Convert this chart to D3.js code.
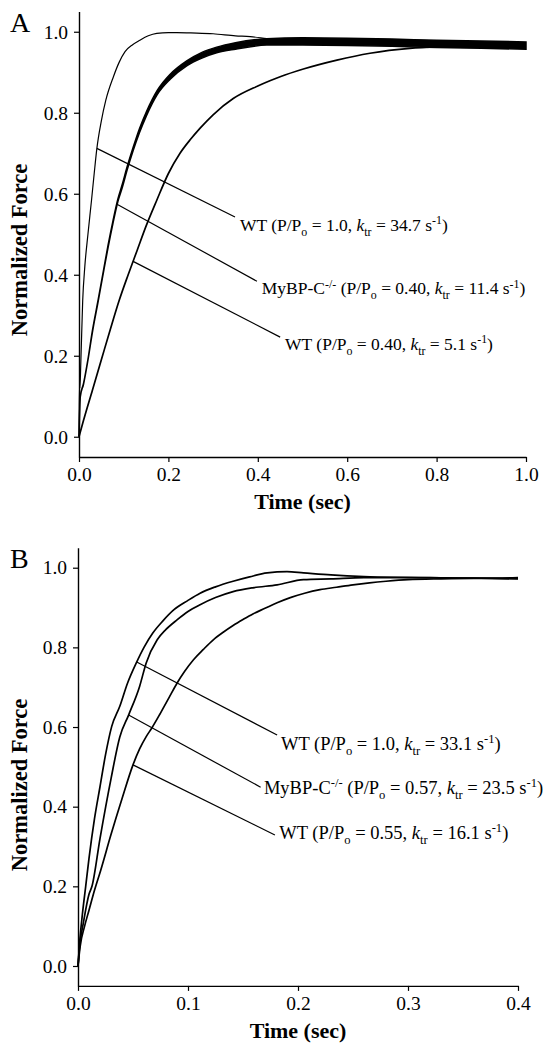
<!DOCTYPE html>
<html><head><meta charset="utf-8">
<script src="https://cdn.jsdelivr.net/npm/d3@7"></script>
<style>
body{margin:0;background:#fff}
svg{display:block}
text{font-family:"Liberation Serif","Times New Roman",serif;fill:#000}
</style></head>
<body><svg id="c" width="557" height="1045"></svg>
<script>
// ---------- DATA ----------
// Panel A
const tA_wt1 = [0,0.001,0.002,0.004,0.0083,0.013,0.02,0.028,0.034,0.040,0.050,0.060,0.077,0.09,0.103,0.12,0.136,0.155,0.174,0.2,0.219,0.25,0.3,0.35,0.383,0.42,0.46,0.5,0.6,0.7,0.8,0.9,1.0];
const fA_wt1 = [0,0.13,0.12,0.18,0.337,0.42,0.50,0.584,0.65,0.712,0.78,0.831,0.889,0.925,0.951,0.968,0.979,0.99,0.996,0.998,0.998,0.997,0.995,0.99,0.988,0.983,0.978,0.975,0.972,0.97,0.968,0.967,0.966];
const tA_ko = [0,0.003,0.01,0.02,0.03,0.043,0.055,0.065,0.076,0.087,0.097,0.107,0.121,0.135,0.151,0.175,0.204,0.241,0.275,0.308,0.35,0.42,0.5,0.6,0.7,0.8,0.9,1.0];
const fA_ko = [0,0.10,0.13,0.19,0.26,0.337,0.41,0.47,0.53,0.584,0.62,0.66,0.71,0.755,0.798,0.85,0.889,0.922,0.942,0.955,0.965,0.975,0.976,0.975,0.973,0.97,0.968,0.966];
// half-width of the noise band of the MyBP-C trace in panel A
const nA_ko = [0,0.001,0.001,0.001,0.002,0.002,0.002,0.003,0.003,0.003,0.004,0.004,0.004,0.005,0.005,0.005,0.006,0.006,0.007,0.007,0.008,0.008,0.009,0.009,0.009,0.009,0.009,0.009];
const tA_wt2 = [0,0.01,0.03,0.05,0.07,0.09,0.11,0.13,0.15,0.174,0.2,0.226,0.25,0.271,0.3,0.345,0.4,0.427,0.45,0.502,0.577,0.651,0.74,0.815,0.9,1.0];
const fA_wt2 = [0,0.04,0.115,0.19,0.265,0.337,0.40,0.46,0.52,0.584,0.65,0.70,0.735,0.762,0.795,0.835,0.866,0.879,0.889,0.908,0.93,0.947,0.959,0.963,0.965,0.962];
// Panel B
const tB_wt1 = [0,0.0015,0.004,0.007,0.01,0.015,0.02,0.025,0.0306,0.038,0.045,0.053,0.06,0.068,0.077,0.087,0.1,0.111,0.125,0.141,0.156,0.172,0.19,0.205,0.23,0.26,0.29,0.32,0.35,0.38,0.4];
const fB_wt1 = [0,0.06,0.13,0.2,0.27,0.37,0.45,0.53,0.601,0.652,0.71,0.761,0.80,0.836,0.866,0.894,0.918,0.936,0.952,0.966,0.977,0.987,0.99,0.987,0.982,0.978,0.976,0.975,0.974,0.974,0.975];
const tB_ko = [0,0.0015,0.005,0.01,0.0127,0.02,0.03,0.038,0.046,0.056,0.062,0.072,0.08,0.09,0.1,0.111,0.125,0.141,0.16,0.181,0.205,0.23,0.26,0.3,0.35,0.4];
const fB_ko = [0,0.05,0.11,0.18,0.2,0.32,0.47,0.575,0.63,0.702,0.761,0.819,0.845,0.869,0.89,0.907,0.925,0.94,0.95,0.957,0.97,0.972,0.975,0.975,0.974,0.973];
const tB_wt2 = [0,0.002,0.006,0.01,0.015,0.0206,0.03,0.04,0.05,0.056,0.062,0.067,0.075,0.083,0.09,0.097,0.105,0.114,0.123,0.132,0.141,0.15,0.159,0.17,0.181,0.193,0.206,0.22,0.235,0.25,0.265,0.28,0.3,0.33,0.36,0.4];
const fB_wt2 = [0,0.05,0.1,0.14,0.19,0.24,0.33,0.42,0.505,0.545,0.576,0.597,0.635,0.675,0.71,0.74,0.769,0.795,0.819,0.838,0.855,0.87,0.884,0.898,0.912,0.925,0.936,0.945,0.951,0.957,0.962,0.966,0.97,0.972,0.973,0.972];

// tick values
const yTicks = [0.0,0.2,0.4,0.6,0.8,1.0];
const xTicksA = [0.0,0.2,0.4,0.6,0.8,1.0];
const xTicksB = [0.0,0.1,0.2,0.3,0.4];

// annotation texts
const labelsA = [
  [{t:"WT (P/P"},{t:"o",sub:1},{t:" = 1.0, "},{t:"k",it:1},{t:"tr",sub:1},{t:" = 34.7 s"},{t:"-1",sup:1},{t:")"}],
  [{t:"MyBP-C"},{t:"-/-",sup:1},{t:" (P/P"},{t:"o",sub:1},{t:" = 0.40, "},{t:"k",it:1},{t:"tr",sub:1},{t:" = 11.4 s"},{t:"-1",sup:1},{t:")"}],
  [{t:"WT (P/P"},{t:"o",sub:1},{t:" = 0.40, "},{t:"k",it:1},{t:"tr",sub:1},{t:" = 5.1 s"},{t:"-1",sup:1},{t:")"}]
];
const labelsB = [
  [{t:"WT (P/P"},{t:"o",sub:1},{t:" = 1.0, "},{t:"k",it:1},{t:"tr",sub:1},{t:" = 33.1 s"},{t:"-1",sup:1},{t:")"}],
  [{t:"MyBP-C"},{t:"-/-",sup:1},{t:" (P/P"},{t:"o",sub:1},{t:" = 0.57, "},{t:"k",it:1},{t:"tr",sub:1},{t:" = 23.5 s"},{t:"-1",sup:1},{t:")"}],
  [{t:"WT (P/P"},{t:"o",sub:1},{t:" = 0.55, "},{t:"k",it:1},{t:"tr",sub:1},{t:" = 16.1 s"},{t:"-1",sup:1},{t:")"}]
];

// ---------- LAYOUT ----------
const svg = d3.select("#c");
const panels = [
  {letter:"A", x0:79, x1:526, y0:457, y1:11.5, xmax:1.0, xTicks:xTicksA,
   series:[[tA_wt1,fA_wt1,1.2,null],[tA_ko,fA_ko,1.5,nA_ko],[tA_wt2,fA_wt2,1.7,null]],
   ann:[ {s:0, ts:0.040, te:0.349, fe:0.5425, tl:0.360, fl:0.508},
         {s:1, ts:0.085, te:0.398, fe:0.384, tl:0.409, fl:0.352},
         {s:2, ts:0.121, te:0.450, fe:0.246, tl:0.461, fl:0.215} ],
   labels:labelsA, lfs:17.5, titleY:250},
  {letter:"B", x0:78, x1:518, y0:985.9, y1:547.8, xmax:0.4, xTicks:xTicksB,
   series:[[tB_wt1,fB_wt1,1.7,null],[tB_ko,fB_ko,1.7,null],[tB_wt2,fB_wt2,1.7,null]],
   ann:[ {s:0, ts:0.0534, te:0.181, fe:0.58, tl:0.1845, fl:0.542},
         {s:1, ts:0.046, te:0.166, fe:0.449, tl:0.169, fl:0.432},
         {s:2, ts:0.050, te:0.179, fe:0.329, tl:0.183, fl:0.319} ],
   labels:labelsB, lfs:18.5, titleY:785}
];

function rich(sel, parts, fs){
  let shift = 0;
  parts.forEach(p=>{
    const ts = sel.append("tspan").text(p.t);
    const target = p.sub ? fs*0.28 : (p.sup ? -fs*0.38 : 0);
    if (target - shift !== 0) ts.attr("dy", target - shift);
    shift = target;
    if (p.sub || p.sup) ts.attr("font-size", fs*0.68);
    if (p.it) ts.attr("font-style","italic");
  });
}
function interp(ts, fs, t){
  for (let i=1;i<ts.length;i++){
    if (t<=ts[i]){ const a=(t-ts[i-1])/(ts[i]-ts[i-1]); return fs[i-1]+a*(fs[i]-fs[i-1]); }
  }
  return fs[fs.length-1];
}

panels.forEach(P=>{
  const x = d3.scaleLinear().domain([0,P.xmax]).range([P.x0,P.x1]);
  const y = d3.scaleLinear().domain([-0.05,1.05]).range([P.y0,P.y1]);
  const g = svg.append("g");

  const yAx = g.append("g").attr("transform",`translate(${P.x0},0)`)
    .call(d3.axisLeft(y).tickValues(yTicks).tickFormat(d3.format(".1f")).tickSize(5).tickPadding(6).tickSizeOuter(0));
  const xAx = g.append("g").attr("transform",`translate(0,${P.y0})`)
    .call(d3.axisBottom(x).tickValues(P.xTicks).tickFormat(d3.format(".1f")).tickSize(5).tickPadding(5).tickSizeOuter(0));
  [yAx,xAx].forEach(a=>{
    a.select(".domain").attr("stroke","#000").attr("stroke-width",1.4);
    a.selectAll(".tick line").attr("stroke","#000").attr("stroke-width",1.2);
    a.selectAll("text").attr("font-size",19.5).attr("font-family",'"Liberation Serif",serif').attr("fill","#000");
  });

  const line = d3.line().x(d=>x(d[0])).y(d=>y(d[1])).curve(d3.curveMonotoneX);
  const area = d3.area().x(d=>x(d[0])).y0(d=>y(d[1]-d[2])).y1(d=>y(d[1]+d[2])).curve(d3.curveMonotoneX);
  P.series.forEach(([ts,fs,w,ns])=>{
    if (ns) {
      g.append("path").datum(ts.map((t,i)=>[t,fs[i],ns[i]]))
        .attr("d",area).attr("fill","#000").attr("stroke","#000").attr("stroke-width",w);
    } else {
      g.append("path").datum(ts.map((t,i)=>[t,fs[i]]))
        .attr("d",line).attr("fill","none").attr("stroke","#000")
        .attr("stroke-width",w).attr("stroke-linejoin","round");
    }
  });

  P.ann.forEach((a,i)=>{
    const [ts,fs] = P.series[a.s];
    const fsStart = interp(ts,fs,a.ts);
    g.append("line").attr("x1",x(a.ts)).attr("y1",y(fsStart))
      .attr("x2",x(a.te)).attr("y2",y(a.fe)).attr("stroke","#000").attr("stroke-width",1.2);
    const txt = g.append("text").attr("x",x(a.tl)).attr("y",y(a.fl)).attr("font-size",P.lfs);
    rich(txt, P.labels[i], P.lfs);
  });

  g.append("text").attr("x",10).attr("y",y(1.0)).attr("font-size",28).text(P.letter);
  g.append("text").attr("x",(P.x0+P.x1)/2).attr("y",P.y0+52)
    .attr("text-anchor","middle").attr("font-size",22).attr("font-weight","bold").text("Time (sec)");
  g.append("text").attr("transform",`translate(27,${P.titleY}) rotate(-90)`)
    .attr("text-anchor","middle").attr("font-size",22.5).attr("font-weight","bold").text("Normalized Force");
});
</script></body></html>
